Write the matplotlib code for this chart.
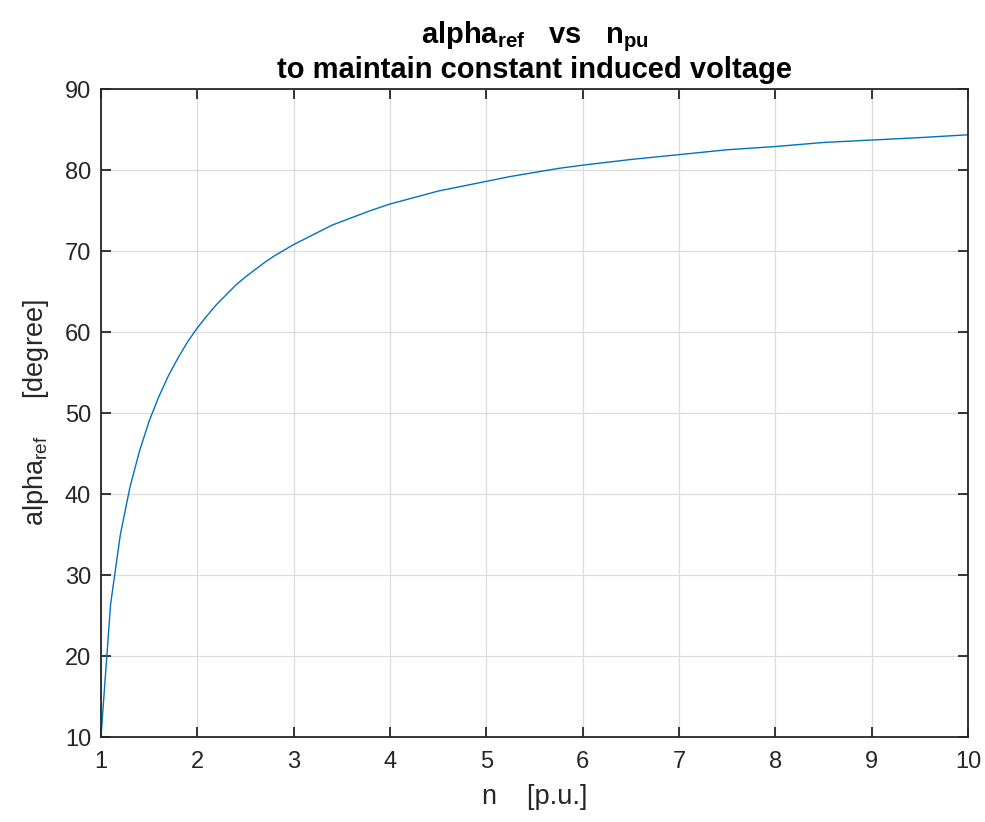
import matplotlib
matplotlib.use("Agg")
import matplotlib.pyplot as plt

plt.rcParams['font.family'] = ['Liberation Sans', 'DejaVu Sans']
plt.rcParams['mathtext.fontset'] = 'custom'
plt.rcParams['mathtext.rm'] = 'Liberation Sans'
plt.rcParams['mathtext.bf'] = 'Liberation Sans:bold'
plt.rcParams['mathtext.it'] = 'Liberation Sans:italic'

# Data
n_pu = [1.0, 1.1, 1.2, 1.3, 1.4, 1.5, 1.6, 1.7, 1.8, 1.9, 2.0,
        2.1, 2.2, 2.3, 2.4, 2.5, 2.6, 2.7, 2.8, 2.9, 3.0, 3.2, 3.4, 3.6, 3.8, 4.0,
        4.25, 4.5, 4.75, 5.0, 5.25, 5.5, 5.75, 6.0, 6.5, 7.0, 7.5, 8.0, 8.5, 9.0, 9.5, 10.0]
alpha_ref = [10.0, 26.4, 34.9, 40.8, 45.3, 49.0, 52.0, 54.6, 56.8, 58.8, 60.5,
             62.0, 63.4, 64.6, 65.8, 66.8, 67.7, 68.6, 69.4, 70.1, 70.8, 72.0, 73.2, 74.1, 75.0, 75.8,
             76.6, 77.4, 78.0, 78.6, 79.2, 79.7, 80.2, 80.6, 81.3, 81.9, 82.5, 82.9, 83.4, 83.7, 84.0, 84.35]

xticks = [1, 2, 3, 4, 5, 6, 7, 8, 9, 10]
yticks = [10, 20, 30, 40, 50, 60, 70, 80, 90]

fig = plt.figure(figsize=(9.85, 8.22), dpi=100)
ax = fig.add_axes([0.1025, 0.1034, 0.8802, 0.7883])

ax.plot(n_pu, alpha_ref, color='#0072BD', lw=1.0)

ax.set_xlim(1, 10)
ax.set_ylim(10, 90)
ax.set_xticks(xticks)
ax.set_yticks(yticks)
ax.grid(True, color='#DCDCDC', lw=0.9)
ax.set_axisbelow(True)

for s in ax.spines.values():
    s.set_color('#262626')
    s.set_linewidth(1.3)
ax.tick_params(direction='in', length=7, width=1.3, colors='#262626',
               labelsize=17, top=True, right=True, pad=7)
ax.tick_params(axis='x', pad=10)

ax.set_xlabel('n    [p.u.]', fontsize=19.5, color='#262626', labelpad=8)
ax.set_ylabel(r'alpha$_{\mathrm{ref}}$     [degree]', fontsize=19.5, color='#262626', labelpad=10)
ax.set_title(r'alpha$_{\mathbf{ref}}$   vs   n$_{\mathbf{pu}}$' + '\nto maintain constant induced voltage',
             fontsize=21, fontweight='bold', color='black', pad=8, linespacing=1.1)

fig.savefig('out.png', dpi=100)
